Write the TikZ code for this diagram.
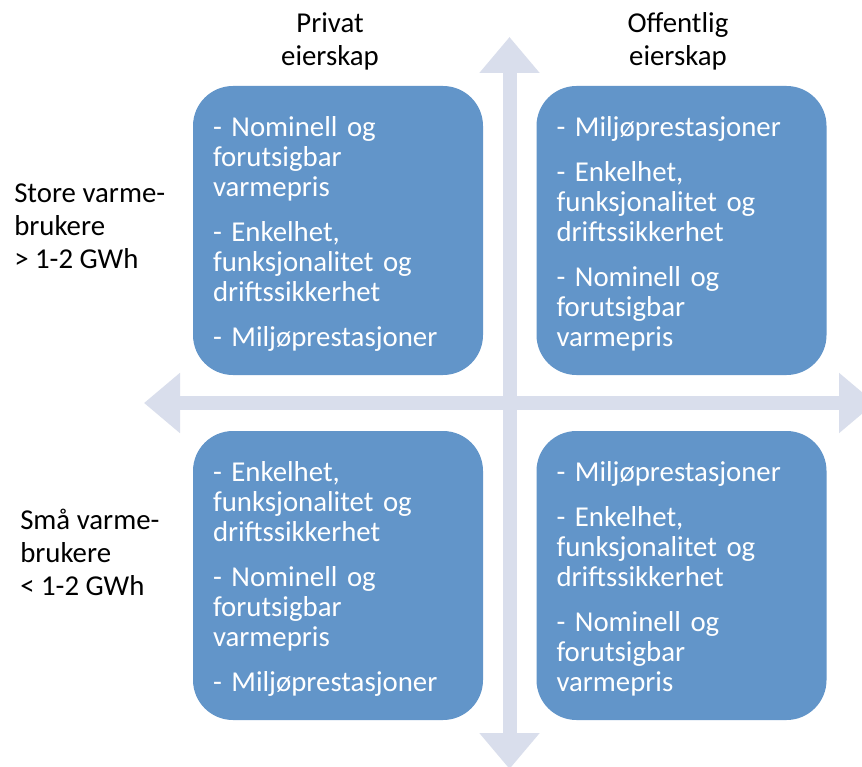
\documentclass[tikz,border=0pt]{standalone}
\usepackage{fontspec}
\setmainfont{Carlito}
\usepackage{xcolor}
\usepackage{tikz}
\usetikzlibrary{arrows.meta}
\definecolor{boxblue}{RGB}{98,149,201}
\definecolor{axisgrey}{RGB}{217,222,236}
\tikzstyle{quad} = [draw=none,fill=boxblue,rounded corners=30pt,text=white,minimum width=217.5pt,minimum height=216.75pt,inner xsep=15pt,text width=187.5pt,align=left,font=\fontsize{21.6}{22.5}\selectfont]
\tikzstyle{lab} = [font=\fontsize{21.6}{24.75}\selectfont,inner sep=0pt]
\tikzstyle{axis} = [axisgrey,line width=10.5pt,{Triangle[width=43.5pt,length=27pt]}-{Triangle[width=43.5pt,length=27pt]}]
\newcommand{\nomi}{- Nominell og\\forutsigbar\\varmepris}
\newcommand{\enkel}{- Enkelhet,\\funksjonalitet og\\driftssikkerhet}
\newcommand{\miljo}{- Miljøprestasjoner}
\newcommand{\gap}{\\[11.25pt]}
\newcommand{\topstrut}{\rule{0pt}{20pt}}

\begin{document}
\begin{tikzpicture}[x=0.75pt,y=-0.75pt]
            \clip (0,0) rectangle (862,766);
            \fill[white] (0,0) rectangle (862,766);
            \coordinate (west) at (144,403);
            \coordinate (east) at (875,403);
            \coordinate (north) at (509.5,37);
            \coordinate (south) at (509.5,769);
            \draw[axis] (west) -- (east);
            \draw[axis] (north) -- (south);
            \node[quad] (privlarge) at (338,230.5) {\topstrut\nomi\gap\enkel\gap\miljo};
            \node[quad] (publarge) at (681.5,230.5) {\topstrut\miljo\gap\enkel\gap\nomi};
            \node[quad] (privsmall) at (338,575.5) {\topstrut\enkel\gap\nomi\gap\miljo};
            \node[quad] (pubsmall) at (681.5,575.5) {\topstrut\miljo\gap\enkel\gap\nomi};
            \node[lab,align=center] (privhead) at (330,41) {Privat\\eierskap};
            \node[lab,align=center] (pubhead) at (678,41) {Offentlig\\eierskap};
            \node[lab,align=left,anchor=west] (largelab) at (14,226) {Store varme-\\brukere\\> 1-2 GWh};
            \node[lab,align=left,anchor=west] (smalllab) at (20,552) {Små varme-\\brukere\\< 1-2 GWh};
        \end{tikzpicture}
\end{document}
